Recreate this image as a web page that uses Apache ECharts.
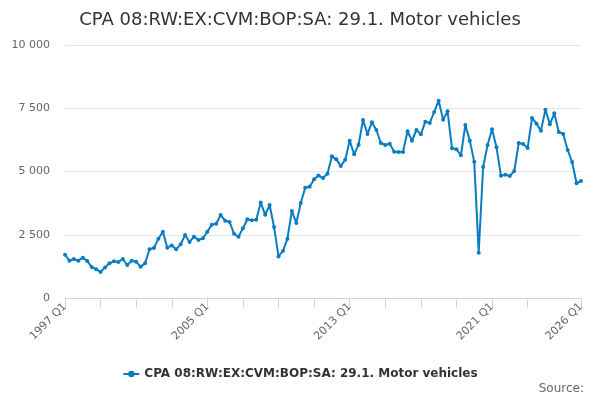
<!DOCTYPE html>
<html>
<head>
<meta charset="utf-8">
<script src="https://cdn.jsdelivr.net/npm/echarts@6/dist/echarts.min.js"></script>
<style>
  html, body { margin: 0; padding: 0; background: #fff; }
  #chart { width: 600px; height: 400px; }
</style>
</head>
<body>
<div id="chart"></div>
<script>
var titleText = "CPA 08:RW:EX:CVM:BOP:SA: 29.1. Motor vehicles";
var seriesName = "CPA 08:RW:EX:CVM:BOP:SA: 29.1. Motor vehicles";
var startYear = 1997;
var endYear = 2026;

// quarterly values, 1997 Q1 .. 2026 Q1
var values = [
	1710, 1475, 1540, 1475, 1595, 1460, 1225, 1135, 1030, 1210,
	1370, 1450, 1425, 1540, 1305, 1475, 1435, 1240, 1370, 1925,
	1975, 2345, 2620, 1990, 2080, 1925, 2120, 2490, 2215, 2425,
	2295, 2360, 2620, 2900, 2935, 3280, 3055, 3005, 2540, 2420,
	2755, 3110, 3070, 3095, 3770, 3295, 3675, 2805, 1645, 1860,
	2345, 3440, 2965, 3755, 4360, 4400, 4690, 4840, 4740, 4915,
	5600, 5480, 5220, 5465, 6220, 5680, 6060, 7035, 6485, 6945,
	6640, 6125, 6050, 6100, 5785, 5770, 5775, 6590, 6220, 6640,
	6470, 6970, 6920, 7355, 7800, 7050, 7380, 5915, 5880, 5640,
	6840, 6220, 5390, 1790, 5180, 6050, 6670, 5955, 4835, 4875,
	4825, 5020, 6125, 6090, 5930, 7115, 6890, 6615, 7445, 6865,
	7300, 6560, 6485, 5850, 5375, 4535, 4625
];

var categories = [];
for (var y = startYear; y <= endYear; y++) {
	for (var q = 1; q <= 4; q++) {
		if (categories.length < values.length) {
			categories.push(y + " Q" + q);
		}
	}
}
var lastIndex = categories.length - 1;

var chart = echarts.init(document.getElementById("chart"));

chart.setOption({
	animation: false,
	textStyle: { fontFamily: "DejaVu Sans" },
	title: [
		{
			text: titleText,
			left: "center",
			top: 6,
			textStyle: { fontSize: 18, fontWeight: "normal", color: "#333333", fontFamily: "DejaVu Sans" },
		},
		{
			text: "Source:",
			right: 11,
			bottom: 0,
			textStyle: { fontSize: 12, fontWeight: "normal", color: "#666666", fontFamily: "DejaVu Sans" },
		},
	],
	legend: {
		bottom: 15,
		left: "center",
		itemWidth: 16,
		itemHeight: 8,
		textStyle: { fontSize: 12, fontWeight: "bold", color: "#333333" },
		data: [seriesName],
	},
	grid: {
		left: 65,
		right: 19,
		top: 45,
		bottom: 102,
	},
	xAxis: {
		type: "category",
		data: categories,
		boundaryGap: false,
		axisLine: { lineStyle: { color: "#ccd6eb" } },
		axisTick: {
			length: 10,
			lineStyle: { color: "#ccd6eb" },
			interval: function (i) {
				return (i % 8 === 0 && i <= 104) || i === lastIndex;
			},
		},
		axisLabel: {
			rotate: 45,
			color: "#666666",
			fontSize: 11,
			margin: 7,
			interval: function (i) {
				return i % 32 === 0 || i === lastIndex;
			},
		},
		splitLine: { show: false },
	},
	yAxis: {
		type: "value",
		min: 0,
		max: 10000,
		interval: 2500,
		axisLine: { show: false },
		axisTick: { show: false },
		axisLabel: {
			color: "#666666",
			fontSize: 11,
			margin: 15,
			formatter: function (v) {
				return String(v).replace(/\B(?=(\d{3})+(?!\d))/g, " ");
			},
		},
		splitLine: { lineStyle: { color: "#e6e6e6" } },
	},
	series: [
		{
			name: seriesName,
			type: "line",
			data: values,
			color: "#0a7cc1",
			symbol: "circle",
			symbolSize: 4,
			showAllSymbol: true,
			lineStyle: { width: 2 },
		},
	],
});
</script>
</body>
</html>
